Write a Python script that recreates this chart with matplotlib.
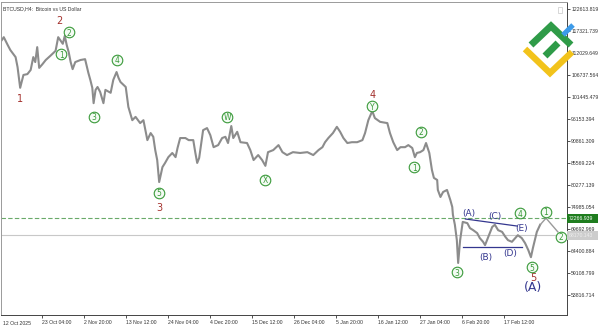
import matplotlib
matplotlib.use('Agg')
import matplotlib.pyplot as plt
from matplotlib.patches import Rectangle
import pandas as pd

plt.rcParams['font.family'] = ['Liberation Sans', 'DejaVu Sans']

# BTCUSD H4 path
times = ['2025-10-12 20:00', '2025-10-13 08:00', '2025-10-14 08:00', '2025-10-15 00:00',
         '2025-10-16 08:00', '2025-10-16 20:00', '2025-10-17 12:00', '2025-10-18 08:00',
         '2025-10-19 08:00', '2025-10-20 04:00', '2025-10-20 20:00', '2025-10-21 08:00',
         '2025-10-21 20:00', '2025-10-22 08:00', '2025-10-23 04:00', '2025-10-24 00:00',
         '2025-10-25 04:00', '2025-10-26 12:00', '2025-10-27 04:00', '2025-10-28 08:00',
         '2025-10-28 20:00', '2025-10-29 08:00', '2025-10-29 20:00', '2025-10-30 08:00',
         '2025-10-30 20:00', '2025-10-31 12:00', '2025-11-01 20:00', '2025-11-03 00:00',
         '2025-11-03 20:00', '2025-11-04 08:00', '2025-11-04 20:00', '2025-11-05 04:00',
         '2025-11-05 16:00', '2025-11-06 04:00', '2025-11-06 20:00', '2025-11-07 16:00',
         '2025-11-08 04:00', '2025-11-09 12:00', '2025-11-10 04:00', '2025-11-11 00:00',
         '2025-11-11 12:00', '2025-11-12 00:00', '2025-11-13 08:00', '2025-11-14 00:00',
         '2025-11-15 00:00', '2025-11-15 20:00', '2025-11-17 00:00', '2025-11-17 20:00',
         '2025-11-18 20:00', '2025-11-19 16:00', '2025-11-20 08:00', '2025-11-20 20:00',
         '2025-11-21 08:00', '2025-11-21 20:00', '2025-11-22 16:00', '2025-11-23 08:00',
         '2025-11-24 04:00', '2025-11-25 04:00', '2025-11-26 00:00', '2025-11-26 12:00',
         '2025-11-27 04:00', '2025-11-28 12:00', '2025-11-29 08:00', '2025-11-30 12:00',
         '2025-12-01 00:00', '2025-12-01 12:00', '2025-12-02 00:00', '2025-12-03 00:00',
         '2025-12-04 00:00', '2025-12-04 20:00', '2025-12-05 16:00', '2025-12-06 20:00',
         '2025-12-07 20:00', '2025-12-08 16:00', '2025-12-09 08:00', '2025-12-10 04:00',
         '2025-12-10 16:00', '2025-12-11 16:00', '2025-12-12 12:00', '2025-12-14 04:00',
         '2025-12-15 00:00', '2025-12-15 20:00', '2025-12-17 00:00', '2025-12-18 00:00',
         '2025-12-18 20:00', '2025-12-19 12:00', '2025-12-20 20:00', '2025-12-22 04:00',
         '2025-12-23 04:00', '2025-12-24 08:00', '2025-12-25 20:00', '2025-12-27 16:00',
         '2025-12-29 12:00', '2025-12-31 00:00', '2026-01-01 08:00', '2026-01-02 08:00',
         '2026-01-03 00:00', '2026-01-03 20:00', '2026-01-05 00:00', '2026-01-06 00:00',
         '2026-01-06 20:00', '2026-01-07 16:00', '2026-01-08 16:00', '2026-01-09 20:00',
         '2026-01-11 04:00', '2026-01-12 12:00', '2026-01-13 04:00', '2026-01-14 00:00',
         '2026-01-15 00:00', '2026-01-15 16:00', '2026-01-17 00:00', '2026-01-18 20:00',
         '2026-01-19 12:00', '2026-01-20 08:00', '2026-01-21 08:00', '2026-01-22 04:00',
         '2026-01-23 08:00', '2026-01-24 04:00', '2026-01-25 04:00', '2026-01-25 20:00',
         '2026-01-26 08:00', '2026-01-27 04:00', '2026-01-28 00:00', '2026-01-28 16:00',
         '2026-01-29 12:00', '2026-01-30 04:00', '2026-01-30 16:00', '2026-01-31 12:00',
         '2026-01-31 16:00', '2026-02-01 08:00', '2026-02-02 00:00', '2026-02-03 00:00',
         '2026-02-03 20:00', '2026-02-04 08:00', '2026-02-04 12:00', '2026-02-05 00:00',
         '2026-02-05 12:00', '2026-02-05 20:00', '2026-02-06 08:00', '2026-02-06 20:00',
         '2026-02-07 00:00', '2026-02-08 04:00', '2026-02-08 20:00', '2026-02-09 16:00',
         '2026-02-10 16:00', '2026-02-11 08:00', '2026-02-12 04:00', '2026-02-12 16:00',
         '2026-02-13 12:00', '2026-02-14 12:00', '2026-02-15 04:00', '2026-02-16 00:00',
         '2026-02-17 00:00', '2026-02-17 20:00', '2026-02-18 12:00', '2026-02-19 12:00',
         '2026-02-20 08:00', '2026-02-21 00:00', '2026-02-22 00:00', '2026-02-22 20:00',
         '2026-02-23 16:00', '2026-02-24 08:00', '2026-02-24 20:00', '2026-02-25 08:00',
         '2026-02-25 20:00', '2026-02-26 16:00']
prices = [115200, 115900, 114000, 112800, 111100, 108700, 103700, 106800,
          107000, 108000, 111100, 109900, 113500, 108500, 109400, 110400,
          111400, 112600, 115900, 114300, 116200, 114000, 112300, 109900,
          108200, 109900, 110400, 110600, 107300, 105600, 103700, 100000,
          103200, 103900, 102700, 100000, 103200, 102500, 105600, 107500,
          106100, 105100, 103900, 99100, 95900, 96700, 95200, 95900,
          91100, 92800, 91900, 88700, 86300, 81000, 84600, 85600,
          87000, 88000, 87000, 89200, 91600, 91600, 91100, 91100,
          88200, 85600, 86800, 93500, 94000, 92300, 89400, 89900,
          91600, 91900, 90400, 94500, 91600, 93100, 90600, 90400,
          88700, 86300, 87500, 86300, 84900, 88200, 88700, 89900,
          88200, 87500, 88200, 88000, 88200, 87500, 88700, 89400,
          90600, 91600, 92800, 94300, 93100, 91600, 90400, 90600,
          90600, 91100, 92800, 95900, 98100, 96400, 95500, 95200,
          92800, 90600, 88700, 89400, 89400, 89900, 89200, 87000,
          88000, 88200, 88700, 90400, 88000, 83900, 82000, 81500,
          79100, 77400, 78600, 79100, 76700, 75000, 73100, 70700,
          67000, 61500, 67000, 70200, 71400, 71100, 69900, 69400,
          68700, 67500, 66600, 65800, 67800, 70200, 70700, 69400,
          69000, 67800, 67000, 66600, 67500, 68200, 67500, 66300,
          64600, 62900, 65100, 67000, 69000, 70700]

# forecast path drawn after the last bar
proj_times = ['2026-02-26 16:00', '2026-02-28 04:00', '2026-03-03 04:00']
proj_prices = [70700, 72300, 69000]

# (A)-(E) triangle borders
tri_upper_times = ['2026-02-07 16:00', '2026-02-20 20:00']
tri_upper_prices = [72100, 70400]
tri_lower_times = ['2026-02-07 00:00', '2026-02-22 00:00']
tri_lower_prices = [65400, 65400]

dash_level = 72266.0
bid_level = 68170.0

ytick_values = [122613.819, 117321.739, 112029.649, 106737.564, 101445.479, 96153.394,
                90861.309, 85569.224, 80277.139, 74985.054, 69692.969, 64400.884,
                59108.799, 53816.714]
xtick_times = ['2025-10-23 04:00', '2025-11-02 20:00', '2025-11-13 12:00', '2025-11-24 04:00',
               '2025-12-04 20:00', '2025-12-15 12:00', '2025-12-26 04:00', '2026-01-05 20:00',
               '2026-01-16 12:00', '2026-01-27 04:00', '2026-02-06 20:00', '2026-02-17 12:00']
xtick_labels = ['23 Oct 04:00', '2 Nov 20:00', '13 Nov 12:00', '24 Nov 04:00', '4 Dec 20:00',
                '15 Dec 12:00', '26 Dec 04:00', '5 Jan 20:00', '16 Jan 12:00', '27 Jan 04:00',
                '6 Feb 20:00', '17 Feb 12:00']

# wave labels: text, time, price
red_labels = [('1', '2025-10-17 12:00', 101000), ('2', '2025-10-27 12:00', 119800),
              ('3', '2025-11-22 00:00', 74700), ('4', '2026-01-15 04:00', 102000),
              ('5', '2026-02-24 20:00', 57900)]
circle_labels = [('1', '2025-10-28 00:00', 111800), ('2', '2025-10-30 00:00', 117100),
                 ('3', '2025-11-05 04:00', 96700), ('4', '2025-11-11 04:00', 110400),
                 ('5', '2025-11-21 16:00', 78400), ('W', '2025-12-09 04:00', 96700),
                 ('X', '2025-12-18 20:00', 81500), ('Y', '2026-01-15 00:00', 99300),
                 ('1', '2026-01-25 16:00', 84600), ('2', '2026-01-27 08:00', 93100),
                 ('3', '2026-02-05 12:00', 59300), ('4', '2026-02-21 12:00', 73500),
                 ('5', '2026-02-24 16:00', 60500), ('1', '2026-02-28 04:00', 73800),
                 ('2', '2026-03-04 00:00', 67800)]
navy_labels = [('(A)', '2026-02-08 16:00', 73500), ('(B)', '2026-02-12 20:00', 62900),
               ('(C)', '2026-02-15 04:00', 72800), ('(D)', '2026-02-19 00:00', 63900),
               ('(E)', '2026-02-21 20:00', 69900)]
big_label = ('(A)', '2026-02-24 20:00', 55500)

green = '#3a9a3a'
navy = '#34378f'
dark_red = '#a3302c'

fig = plt.figure(figsize=(5.98, 3.26), dpi=100)
ax = fig.add_axes([0.5 / 598, 11 / 326, 566.5 / 598, 313 / 326])

ax.plot(pd.to_datetime(times), prices, color='#8c8c8c', lw=1.5, zorder=2)
ax.plot(pd.to_datetime(proj_times), proj_prices, color='#9a9a9a', lw=1.0, zorder=2)
ax.axhline(dash_level, color='#6aaa6a', lw=0.8, dashes=(4, 2), zorder=1)
ax.axhline(bid_level, color='#c8c8c8', lw=0.8, zorder=1)
ax.plot(pd.to_datetime(tri_upper_times), tri_upper_prices, color=navy, lw=0.9, zorder=3)
ax.plot(pd.to_datetime(tri_lower_times), tri_lower_prices, color=navy, lw=0.9, zorder=3)

for txt, t, p in red_labels:
    ax.text(pd.Timestamp(t), p, txt, color=dark_red, fontsize=7, ha='center', va='center',
            family='DejaVu Sans', zorder=5)
for txt, t, p in circle_labels:
    ax.scatter([pd.Timestamp(t)], [p], s=58, facecolor='#f4fbf4', edgecolor=green,
               linewidth=0.8, zorder=5, clip_on=False)
    ax.text(pd.Timestamp(t), p, txt, color=green, fontsize=5.5, ha='center',
            va='center_baseline', family='DejaVu Sans', zorder=6, clip_on=False)
for txt, t, p in navy_labels:
    ax.text(pd.Timestamp(t), p, txt, color=navy, fontsize=6.5, ha='center', va='center',
            family='DejaVu Sans', zorder=5)
ax.text(pd.Timestamp(big_label[1]), big_label[2], big_label[0], color=navy, fontsize=9,
        ha='center', va='center', family='DejaVu Sans', zorder=5)

ax.set_xlim(pd.Timestamp('2025-10-12 12:00'), pd.Timestamp('2026-03-05 12:00'))
ax.set_ylim(48971, 124372)

ax.yaxis.tick_right()
ax.set_yticks(ytick_values)
ax.set_yticklabels(['%.3f' % v for v in ytick_values])
ax.set_xticks(pd.to_datetime(xtick_times))
ax.set_xticklabels(xtick_labels, ha='left')
ax.tick_params(axis='both', labelsize=3.7, colors='#333333', length=2, width=0.6, pad=1)
ax.tick_params(axis='x', length=2.5)
for s in ax.spines.values():
    s.set_color('#444444')
    s.set_linewidth(0.7)
ax.spines['top'].set_color('#9a9a9a')
ax.spines['left'].set_color('#9a9a9a')

ax.text(0.004, -0.018, '12 Oct 2025', transform=ax.transAxes, fontsize=3.7, color='#333333',
        ha='left', va='top')
ax.text(0.004, 0.985, 'BTCUSD,H4:  Bitcoin vs US Dollar', transform=ax.transAxes, fontsize=3.7,
        color='#333333', ha='left', va='top')

# pixel-space overlay: price boxes and logo
ov = fig.add_axes([0, 0, 1, 1], frameon=False)
ov.set_xlim(0, 598)
ov.set_ylim(326, 0)
ov.axis('off')
ov.add_patch(Rectangle((567, 213.5), 31, 9.5, fc='#1f7d1f', ec='none'))
ov.text(569, 218.4, '72266.939', fontsize=3.7, color='white', ha='left', va='center')
ov.add_patch(Rectangle((567, 231), 31, 9, fc='#cdcdcd', ec='none'))
ov.text(569, 235.6, '68170.143', fontsize=3.7, color='#eeeeee', ha='left', va='center')
ov.add_patch(Rectangle((558, 7), 4, 6, fc='none', ec='#c8c8c8', lw=0.5))

ov.plot([525, 550, 572], [49, 73, 52], color='#f2c31b', lw=4.6, solid_capstyle='butt',
        solid_joinstyle='miter')
ov.plot([531, 551, 571], [45, 26, 45], color='#2f9b48', lw=5.0, solid_capstyle='butt',
        solid_joinstyle='miter')
ov.plot([545, 558], [56, 43], color='#2f9b48', lw=5.0, solid_capstyle='butt')
ov.plot([563, 573], [35, 25], color='#3d9be9', lw=3.6, solid_capstyle='butt')

fig.savefig('out.png', dpi=100)
